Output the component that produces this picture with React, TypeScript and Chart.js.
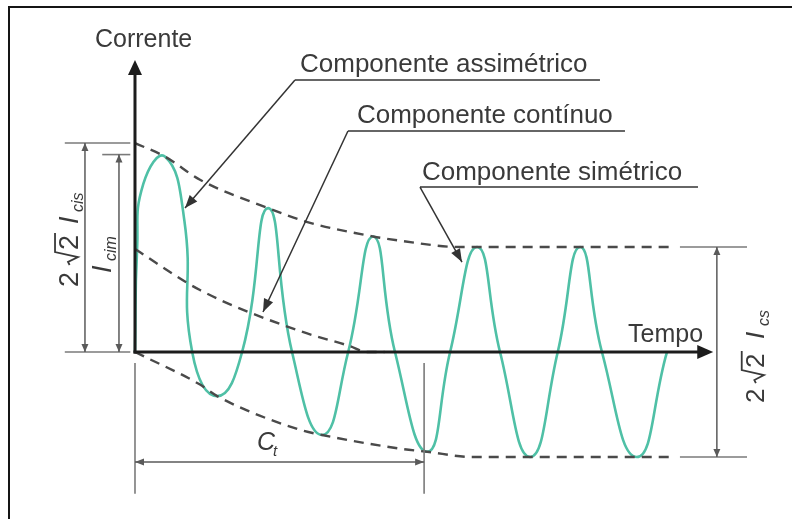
import React, { useEffect, useRef } from "react";
import { Chart, registerables } from "chart.js";

Chart.register(...registerables);

// time axis in ms, current in p.u. (peak of the symmetric component = 1)
const waveTime = [0, 0.4, 1.6, 5.8, 9.5, 11.0, 15.8, 20.6, 25.6, 30.2, 36.0, 41.0, 45.8, 50.0, 56.2, 60.6, 65.8, 70.2, 76.0, 81.3, 85.6, 89.8, 96.5, 102.3];
const waveCurrent = [0, 0.97, 1.6, 1.86, 1.25, 0, -0.42, 0, 1.37, 0, -0.79, 0, 1.1, 0, -0.95, 0, 1.0, 0, -1.0, 0, 1.0, 0, -1.0, 0];

const upperEnvTime = [0, 5.8, 12.5, 25.6, 33, 45.8, 51, 62.5, 103.3];
const upperEnvCurrent = [1.99, 1.86, 1.64, 1.37, 1.24, 1.1, 1.06, 1.0, 1.0];

const lowerEnvTime = [0, 12.5, 15.8, 31.7, 36.0, 51, 56.2, 65, 103.3];
const lowerEnvCurrent = [0, -0.31, -0.42, -0.74, -0.79, -0.92, -0.95, -1.0, -1.0];

const dcTime = [0, 12.5, 31.7, 41.3, 44.6, 48];
const dcCurrent = [0.98, 0.59, 0.2, 0.057, 0, 0];

// scale ranges
const X_MIN = -25.96;
const X_MAX = 126.35;
const Y_MIN = -1.59;
const Y_MAX = 3.352;

// annotation anchors (data units)
const axisYTop = 2.78;
const axisXEnd = 111.2;
const cisTop = 1.99;
const cimTop = 1.88;
const csTop = 1.0;
const csBottom = -1.0;
const dimCisT = -9.62;
const dimCimT = -3.08;
const extLeftT = -13.5;
const extCimLeftT = -6.3;
const extRightT = -0.9;
const dimCsT = 111.9;
const extCsT0 = 104.8;
const extCsT1 = 117.7;
const ctLevel = -1.048;
const ctEnd = 55.6;
const ctExtTop = -0.105;
const ctExtBottom = -1.35;

const callouts = [
  { text: "Componente assimétrico", t: 31.73, i: 2.667, lineI: 2.59, lineT0: 30.77, lineT1: 89.42, tipT: 9.62, tipI: 1.371 },
  { text: "Componente contínuo", t: 42.69, i: 2.181, lineI: 2.105, lineT0: 40.96, lineT1: 94.23, tipT: 24.62, tipI: 0.381 },
  { text: "Componente simétrico", t: 55.19, i: 1.638, lineI: 1.571, lineT0: 54.81, lineT1: 108.27, tipT: 62.88, tipI: 0.857 },
];
const axisLabels = [
  { text: "Corrente", t: -7.69, i: 2.905 },
  { text: "Tempo", t: 94.81, i: 0.095 },
];
const ctLabel = { t: 23.46, i: -0.933 };
const cisLabel = { t: -10.96, i: 0.619 };
const cimLabel = { t: -4.62, i: 0.752 };
const csLabel = { t: 120.96, i: -0.486 };

const FONT = '"Liberation Sans", Arial, Helvetica, sans-serif';
const TEXT = "#3a3a3a";
const TEAL = "#4fc0a6";

function line(ctx: CanvasRenderingContext2D, x1: number, y1: number, x2: number, y2: number, color: string, w: number) {
  ctx.save();
  ctx.strokeStyle = color;
  ctx.lineWidth = w;
  ctx.beginPath();
  ctx.moveTo(x1, y1);
  ctx.lineTo(x2, y2);
  ctx.stroke();
  ctx.restore();
}

function head(ctx: CanvasRenderingContext2D, tx: number, ty: number, fx: number, fy: number, len: number, hw: number, color: string) {
  const a = Math.atan2(ty - fy, tx - fx);
  ctx.save();
  ctx.translate(tx, ty);
  ctx.rotate(a);
  ctx.beginPath();
  ctx.moveTo(0, 0);
  ctx.lineTo(-len, -hw);
  ctx.lineTo(-len, hw);
  ctx.closePath();
  ctx.fillStyle = color;
  ctx.fill();
  ctx.restore();
}

type Seg = { kind: "text" | "rad"; text?: string; x: number; size: number; italic?: boolean; dy?: number; w?: number };

function rich(ctx: CanvasRenderingContext2D, x: number, y: number, rot: number, segs: Seg[]) {
  ctx.save();
  ctx.translate(x, y);
  ctx.rotate(rot);
  ctx.fillStyle = TEXT;
  ctx.strokeStyle = TEXT;
  ctx.textBaseline = "alphabetic";
  ctx.textAlign = "left";
  for (const s of segs) {
    if (s.kind === "rad") {
      const h = s.size * 0.74;
      const x0 = s.x;
      ctx.lineWidth = 1.8;
      ctx.beginPath();
      ctx.moveTo(x0, -h * 0.42);
      ctx.lineTo(x0 + 3, -h * 0.5);
      ctx.lineTo(x0 + 8, 0);
      ctx.lineTo(x0 + 13, -h - 3);
      ctx.lineTo(x0 + 13 + (s.w || 18), -h - 3);
      ctx.stroke();
    } else {
      ctx.font = `${s.italic ? "italic " : ""}${s.size}px ${FONT}`;
      ctx.fillText(s.text || "", s.x, s.dy || 0);
    }
  }
  ctx.restore();
}

const annotations = {
  id: "diagramAnnotations",
  afterDatasetsDraw(chart: any) {
    const ctx: CanvasRenderingContext2D = chart.ctx;
    const X = (t: number) => chart.scales.x.getPixelForValue(t);
    const Y = (v: number) => chart.scales.y.getPixelForValue(v);
    const AX = "#1c1c1c";
    const DIM = "#5a5a5a";
    const EXT = "#7a7a7a";
    const LEAD = "#333333";

    // axes
    line(ctx, X(0), Y(0) + 1.5, X(0), Y(axisYTop) + 12, AX, 3);
    head(ctx, X(0), Y(axisYTop), X(0), Y(0), 15, 7, AX);
    line(ctx, X(0) - 1.5, Y(0), X(axisXEnd) - 12, Y(0), AX, 3);
    head(ctx, X(axisXEnd), Y(0), X(0), Y(0), 16, 7, AX);

    // left dimensions
    line(ctx, X(extLeftT), Y(cisTop), X(extRightT), Y(cisTop), EXT, 1.6);
    line(ctx, X(extLeftT), Y(0), X(extRightT), Y(0), EXT, 1.6);
    line(ctx, X(extCimLeftT), Y(cimTop), X(extRightT), Y(cimTop), EXT, 1.6);
    line(ctx, X(dimCisT), Y(cisTop), X(dimCisT), Y(0), DIM, 1.5);
    head(ctx, X(dimCisT), Y(cisTop), X(dimCisT), Y(0), 8, 3.5, DIM);
    head(ctx, X(dimCisT), Y(0), X(dimCisT), Y(cisTop), 8, 3.5, DIM);
    line(ctx, X(dimCimT), Y(cimTop), X(dimCimT), Y(0), DIM, 1.5);
    head(ctx, X(dimCimT), Y(cimTop), X(dimCimT), Y(0), 8, 3.5, DIM);
    head(ctx, X(dimCimT), Y(0), X(dimCimT), Y(cimTop), 8, 3.5, DIM);

    // right dimension
    line(ctx, X(extCsT0), Y(csTop), X(extCsT1), Y(csTop), EXT, 1.6);
    line(ctx, X(extCsT0), Y(csBottom), X(extCsT1), Y(csBottom), EXT, 1.6);
    line(ctx, X(dimCsT), Y(csTop), X(dimCsT), Y(csBottom), DIM, 1.5);
    head(ctx, X(dimCsT), Y(csTop), X(dimCsT), Y(csBottom), 8, 3.5, DIM);
    head(ctx, X(dimCsT), Y(csBottom), X(dimCsT), Y(csTop), 8, 3.5, DIM);

    // Ct dimension
    line(ctx, X(0), Y(ctExtTop), X(0), Y(ctExtBottom), EXT, 1.6);
    line(ctx, X(ctEnd), Y(ctExtTop), X(ctEnd), Y(ctExtBottom), EXT, 1.6);
    line(ctx, X(0), Y(ctLevel), X(ctEnd), Y(ctLevel), DIM, 1.5);
    head(ctx, X(0), Y(ctLevel), X(ctEnd), Y(ctLevel), 9, 3.5, DIM);
    head(ctx, X(ctEnd), Y(ctLevel), X(0), Y(ctLevel), 9, 3.5, DIM);

    // callouts
    ctx.save();
    ctx.fillStyle = TEXT;
    ctx.textBaseline = "alphabetic";
    ctx.textAlign = "left";
    ctx.font = `26px ${FONT}`;
    for (const c of callouts) {
      ctx.fillText(c.text, X(c.t), Y(c.i));
      line(ctx, X(c.lineT0), Y(c.lineI), X(c.lineT1), Y(c.lineI), LEAD, 1.6);
      line(ctx, X(c.lineT0), Y(c.lineI), X(c.tipT), Y(c.tipI), LEAD, 1.5);
      head(ctx, X(c.tipT), Y(c.tipI), X(c.lineT0), Y(c.lineI), 13, 5, LEAD);
    }
    ctx.font = `25px ${FONT}`;
    for (const a of axisLabels) {
      ctx.fillText(a.text, X(a.t), Y(a.i));
    }
    ctx.restore();

    // C_t label
    rich(ctx, X(ctLabel.t), Y(ctLabel.i), 0, [
      { kind: "text", text: "C", x: 0, size: 25, italic: true },
      { kind: "text", text: "t", x: 16, size: 15, italic: true, dy: 6 },
    ]);

    const R = -Math.PI / 2;
    rich(ctx, X(cisLabel.t), Y(cisLabel.i), R, [
      { kind: "text", text: "2", x: 0, size: 27 },
      { kind: "rad", x: 22, size: 27, w: 19 },
      { kind: "text", text: "2", x: 37, size: 27 },
      { kind: "text", text: "I", x: 63, size: 27, italic: true },
      { kind: "text", text: "cis", x: 75, size: 16, italic: true, dy: 5 },
    ]);
    rich(ctx, X(cimLabel.t), Y(cimLabel.i), R, [
      { kind: "text", text: "I", x: 0, size: 27, italic: true },
      { kind: "text", text: "cim", x: 12, size: 16, italic: true, dy: 5 },
    ]);
    rich(ctx, X(csLabel.t), Y(csLabel.i), R, [
      { kind: "text", text: "2", x: 0, size: 26 },
      { kind: "rad", x: 20, size: 26, w: 19 },
      { kind: "text", text: "2", x: 35, size: 26 },
      { kind: "text", text: "I", x: 64, size: 26, italic: true },
      { kind: "text", text: "cs", x: 77, size: 16, italic: true, dy: 5 },
    ]);
  },
};

const pts = (xs: number[], ys: number[]) => xs.map((x, k) => ({ x, y: ys[k] }));

export default function App() {
  const ref = useRef<HTMLCanvasElement | null>(null);
  useEffect(() => {
    document.body.style.margin = "0";
    if (!ref.current) return;
    const dashed = {
      borderColor: "#4a4a4a",
      borderWidth: 2.4,
      borderDash: [10, 7],
      pointRadius: 0,
      fill: false,
      cubicInterpolationMode: "monotone" as const,
    };
    const chart = new Chart(ref.current, {
      type: "line",
      data: {
        datasets: [
          { ...dashed, label: "envelope upper", data: pts(upperEnvTime, upperEnvCurrent) },
          { ...dashed, label: "envelope lower", data: pts(lowerEnvTime, lowerEnvCurrent) },
          { ...dashed, label: "dc", data: pts(dcTime, dcCurrent) },
          {
            label: "current",
            data: pts(waveTime, waveCurrent),
            borderColor: TEAL,
            borderWidth: 2.6,
            pointRadius: 0,
            fill: false,
            tension: 0.5,
          },
        ],
      },
      options: {
        animation: false,
        responsive: false,
        devicePixelRatio: 1,
        layout: { padding: 0 },
        plugins: { legend: { display: false }, tooltip: { enabled: false } },
        scales: {
          x: { type: "linear", display: false, min: X_MIN, max: X_MAX },
          y: { type: "linear", display: false, min: Y_MIN, max: Y_MAX },
        },
      },
      plugins: [annotations],
    });
    return () => chart.destroy();
  }, []);
  return (
    <div style={{ position: "relative", width: 792, height: 519, overflow: "hidden", background: "#fff" }}>
      <canvas ref={ref} width={792} height={519} style={{ display: "block" }} />
      <div
        style={{
          position: "absolute",
          left: 8,
          top: 6,
          width: 900,
          height: 700,
          borderLeft: "2px solid #151515",
          borderTop: "2px solid #151515",
          pointerEvents: "none",
        }}
      />
    </div>
  );
}
